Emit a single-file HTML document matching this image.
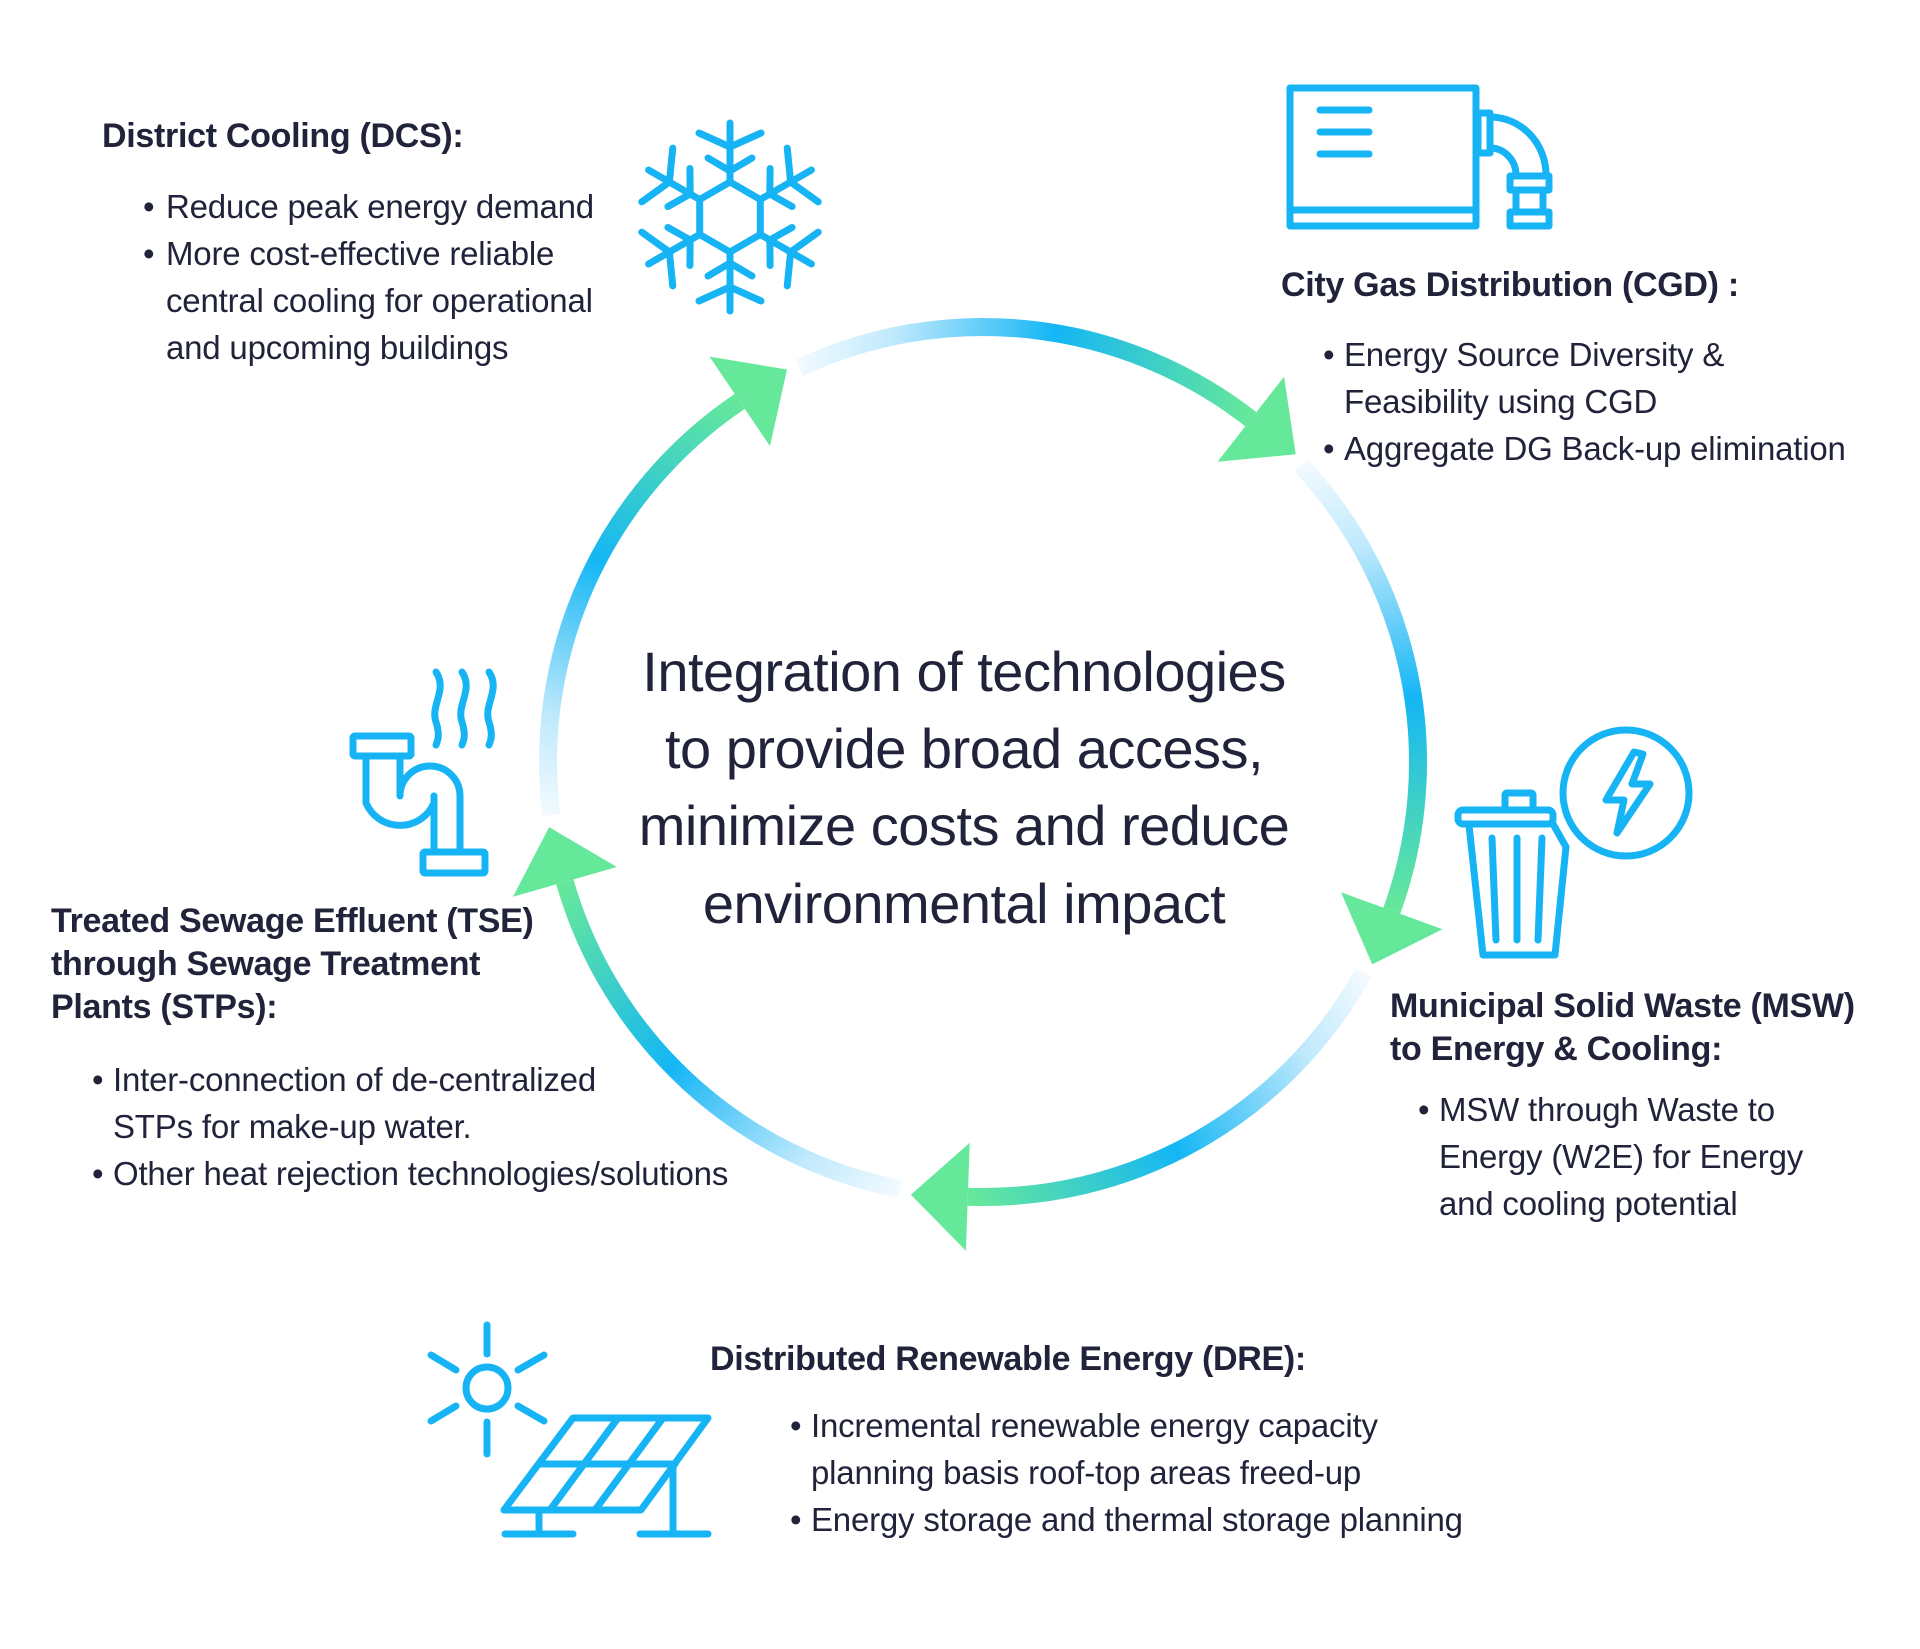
<!DOCTYPE html>
<html><head><meta charset="utf-8"><style>
html,body{margin:0;padding:0;background:#fff;}
svg{display:block;}
text{font-family:"Liberation Sans",Arial,sans-serif;fill:#20233a;}
.h{font-weight:bold;font-size:34px;letter-spacing:-0.3px;}
.b{font-size:33px;letter-spacing:-0.2px;}
.c{font-size:56px;letter-spacing:-0.5px;}
.ic{fill:none;stroke:#16b4f4;stroke-width:7;stroke-linecap:round;stroke-linejoin:round;}
</style></head><body>
<svg width="1920" height="1649" viewBox="0 0 1920 1649" xmlns="http://www.w3.org/2000/svg">
<defs>
<linearGradient id="g" gradientUnits="userSpaceOnUse" x1="1420" y1="765" x2="1182" y2="1152">
<stop offset="0" stop-color="#f2faff"/>
<stop offset="0.2" stop-color="#bfe9fc"/>
<stop offset="0.55" stop-color="#14b6f5"/>
<stop offset="1" stop-color="#66e89a"/>
</linearGradient>
<g id="seg"><path d="M1420 765 A435 435 0 0 1 1182.5 1152.6" fill="none" stroke="url(#g)" stroke-width="18"/></g>
<g id="ah"><polygon points="1366,765 1474,765 1420,822" fill="#66e89a"/></g>
<g id="arm">
<line x1="0" y1="-35" x2="0" y2="-94"/>
<polyline points="-22,-59 0,-46 22,-59"/>
<polyline points="-31,-84 0,-70 31,-84"/>
</g>
</defs>

<g transform="translate(-2 -3)">
<use href="#seg" transform="rotate(-115 985 765)"/>
<use href="#seg" transform="rotate(-43 985 765)"/>
<use href="#seg" transform="rotate(29 985 765)"/>
<use href="#seg" transform="rotate(101 985 765)"/>
<use href="#seg" transform="rotate(173 985 765)"/>
<use href="#ah" transform="rotate(-52 985 765)"/>
<use href="#ah" transform="rotate(20 985 765)"/>
<use href="#ah" transform="rotate(92 985 765)"/>
<use href="#ah" transform="rotate(164 985 765)"/>
<use href="#ah" transform="rotate(236 985 765)"/>
</g>

<g text-anchor="middle">
<text class="c" x="964" y="691">Integration of technologies</text>
<text class="c" x="964" y="768">to provide broad access,</text>
<text class="c" x="964" y="845">minimize costs and reduce</text>
<text class="c" x="964" y="923">environmental impact</text>
</g>

<text class="h" x="102" y="147">District Cooling (DCS):</text>
<text class="b" x="143" y="218">•</text><text class="b" x="166" y="218">Reduce peak energy demand</text>
<text class="b" x="143" y="265">•</text><text class="b" x="166" y="265">More cost-effective reliable</text>
<text class="b" x="166" y="312">central cooling for operational</text>
<text class="b" x="166" y="359">and upcoming buildings</text>

<g class="ic" transform="translate(730 217)">
<polygon points="0,-35 30.3,-17.5 30.3,17.5 0,35 -30.3,17.5 -30.3,-17.5"/>
<use href="#arm"/>
<use href="#arm" transform="rotate(60)"/>
<use href="#arm" transform="rotate(120)"/>
<use href="#arm" transform="rotate(180)"/>
<use href="#arm" transform="rotate(240)"/>
<use href="#arm" transform="rotate(300)"/>
</g>

<g class="ic" stroke-linecap="butt" stroke-linejoin="miter">
<rect x="1290" y="88" width="186" height="138"/>
<line x1="1290" y1="210" x2="1476" y2="210"/>
<line x1="1320" y1="110" x2="1369" y2="110"/>
<line x1="1320" y1="132" x2="1369" y2="132"/>
<line x1="1320" y1="154" x2="1369" y2="154"/>
<rect x="1478" y="113" width="12" height="40"/>
<path d="M1490 117 A56 58 0 0 1 1546 175"/>
<path d="M1490 148 A26 27 0 0 1 1516 175"/>
<rect x="1510" y="176" width="39" height="14"/>
<rect x="1510" y="212" width="39" height="14"/>
<line x1="1516" y1="190" x2="1516" y2="212"/>
<line x1="1543" y1="190" x2="1543" y2="212"/>
</g>
<text class="h" x="1281" y="296">City Gas Distribution (CGD) :</text>
<text class="b" x="1323" y="366">•</text><text class="b" x="1344" y="366">Energy Source Diversity &amp;</text>
<text class="b" x="1344" y="413">Feasibility using CGD</text>
<text class="b" x="1323" y="460">•</text><text class="b" x="1344" y="460">Aggregate DG Back-up elimination</text>

<g class="ic">
<path d="M436 672 C448 690 430 705 436 722 C440 735 438 740 436 745"/>
<path d="M462 672 C474 690 456 705 462 722 C466 735 464 740 462 745"/>
<path d="M489 672 C501 690 483 705 489 722 C493 735 491 740 489 745"/>
<rect x="353" y="736" width="58" height="20" rx="2"/>
<path d="M366 756 V803 A37 37 0 0 0 434 803 V796"/>
<path d="M400 756 V796 A30 30 0 0 1 460 796 V852"/>
<path d="M434 796 V852"/>
<rect x="423" y="852" width="62" height="21" rx="2"/>
</g>
<text class="h" x="51" y="932">Treated Sewage Effluent (TSE)</text>
<text class="h" x="51" y="975">through Sewage Treatment</text>
<text class="h" x="51" y="1018">Plants (STPs):</text>
<text class="b" x="92" y="1091">•</text><text class="b" x="113" y="1091">Inter-connection of de-centralized</text>
<text class="b" x="113" y="1138">STPs for make-up water.</text>
<text class="b" x="92" y="1185">•</text><text class="b" x="113" y="1185">Other heat rejection technologies/solutions</text>

<g class="ic">
<circle cx="1626" cy="793" r="63"/>
<polygon points="1634,752 1606,800 1624,800 1617,833 1650,784 1632,784 1643,754"/>
<rect x="1458" y="810" width="95" height="14" rx="5"/>
<rect x="1505" y="793" width="28" height="17" rx="2"/>
<path d="M1469 825 L1483 955 H1555 L1566 847 L1553 824"/>
<line x1="1492" y1="838" x2="1496" y2="940"/>
<line x1="1517" y1="838" x2="1517" y2="940"/>
<line x1="1542" y1="838" x2="1538" y2="940"/>
</g>
<text class="h" x="1390" y="1017">Municipal Solid Waste (MSW)</text>
<text class="h" x="1390" y="1060">to Energy &amp; Cooling:</text>
<text class="b" x="1418" y="1121">•</text><text class="b" x="1439" y="1121">MSW through Waste to</text>
<text class="b" x="1439" y="1168">Energy (W2E) for Energy</text>
<text class="b" x="1439" y="1215">and cooling potential</text>

<g class="ic" stroke-linecap="butt">
<circle cx="487" cy="1388" r="21"/>
<line x1="487" y1="1325" x2="487" y2="1354"/>
<line x1="487" y1="1422" x2="487" y2="1454"/>
<line x1="431" y1="1355" x2="456" y2="1370"/>
<line x1="518" y1="1370" x2="544" y2="1355"/>
<line x1="431" y1="1421" x2="456" y2="1406"/>
<line x1="518" y1="1406" x2="544" y2="1421"/>
<polygon points="573,1418 708,1418 641,1510 504,1510"/>
<line x1="539" y1="1464" x2="675" y2="1464"/>
<line x1="618" y1="1418" x2="550" y2="1510"/>
<line x1="663" y1="1418" x2="595" y2="1510"/>
<line x1="539" y1="1510" x2="539" y2="1534"/>
<line x1="505" y1="1534" x2="573" y2="1534"/>
<line x1="673" y1="1464" x2="673" y2="1534"/>
<line x1="640" y1="1534" x2="708" y2="1534"/>
</g>
<text class="h" x="710" y="1370">Distributed Renewable Energy (DRE):</text>
<text class="b" x="790" y="1437">•</text><text class="b" x="811" y="1437">Incremental renewable energy capacity</text>
<text class="b" x="811" y="1484">planning basis roof-top areas freed-up</text>
<text class="b" x="790" y="1531">•</text><text class="b" x="811" y="1531">Energy storage and thermal storage planning</text>
</svg>
</body></html>
